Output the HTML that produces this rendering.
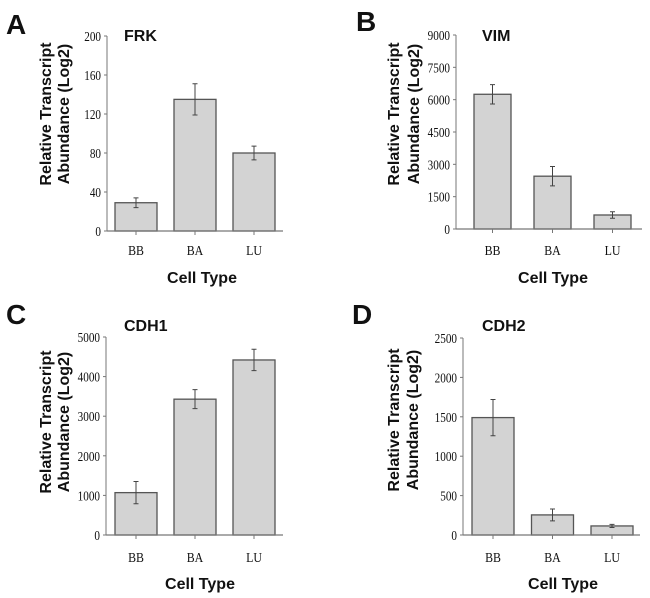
<!DOCTYPE html>
<html><head><meta charset="utf-8"><style>
html,body{margin:0;padding:0;background:#fff;}
svg{display:block;}
.tk{font-family:"Liberation Serif",serif;font-size:14px;fill:#111;}
.bt{font-family:"Liberation Sans",sans-serif;font-weight:bold;fill:#111;}
</style></head><body>
<svg id="fig" width="650" height="598" viewBox="0 0 650 598"></svg>
<script>
const categories = ["BB","BA","LU"];
const frkValues = [29,135,80];
const frkErrors = [5,16,7];
const frkTicks = [0,40,80,120,160,200];
const vimValues = [6250,2450,650];
const vimErrors = [450,450,150];
const vimTicks = [0,1500,3000,4500,6000,7500,9000];
const cdh1Values = [1070,3430,4420];
const cdh1Errors = [280,240,270];
const cdh1Ticks = [0,1000,2000,3000,4000,5000];
const cdh2Values = [1490,255,115];
const cdh2Errors = [230,75,20];
const cdh2Ticks = [0,500,1000,1500,2000,2500];

const NS="http://www.w3.org/2000/svg";
const svg=document.getElementById('fig');
function mk(tag,attrs,parent,text){const e=document.createElementNS(NS,tag);for(const k in attrs)e.setAttribute(k,attrs[k]);if(text!==undefined)e.textContent=text;(parent||svg).appendChild(e);return e;}

const panels=[
 {id:'a',letter:'A',name:'FRK',vals:frkValues,errs:frkErrors,ticks:frkTicks,ax:107,top:36,zero:231,end:283,bx0:115,bstep:59,bw:42,tx:124,ty:41,lx:6,ly:34,yt1:45,yt2:63,ytc:114,cy:250,ctx:202,cty:283},
 {id:'b',letter:'B',name:'VIM',vals:vimValues,errs:vimErrors,ticks:vimTicks,ax:456,top:35,zero:229,end:642,bx0:474,bstep:60,bw:37,tx:482,ty:41,lx:356,ly:31,yt1:393,yt2:413,ytc:114,cy:250,ctx:553,cty:283},
 {id:'c',letter:'C',name:'CDH1',vals:cdh1Values,errs:cdh1Errors,ticks:cdh1Ticks,ax:106,top:337,zero:535,end:283,bx0:115,bstep:59,bw:42,tx:124,ty:331,lx:6,ly:324,yt1:45,yt2:63,ytc:422,cy:557,ctx:200,cty:589},
 {id:'d',letter:'D',name:'CDH2',vals:cdh2Values,errs:cdh2Errors,ticks:cdh2Ticks,ax:463,top:338,zero:535,end:640,bx0:472,bstep:59.5,bw:42,tx:482,ty:331,lx:352,ly:324,yt1:393,yt2:412,ytc:420,cy:557,ctx:563,cty:589}
];

panels.forEach(p=>{
  const g=mk('g',{});
  
  
  const max=p.ticks[p.ticks.length-1];
  const y=v=>p.zero-(v/max)*(p.zero-p.top);
  const lt=mk('text',{x:p.lx,y:p.ly,class:'bt','font-size':'28'},g,p.letter);
  
  
  const tt=mk('text',{x:p.tx,y:p.ty,class:'bt','font-size':'16'},g,p.name);
  
  
  const yt=mk('text',{class:'bt','font-size':'16','text-anchor':'middle',transform:'rotate(-90)'},g);
  
  
  mk('tspan',{x:-p.ytc,y:p.yt1+6},yt,'Relative Transcript');
  mk('tspan',{x:-p.ytc,y:p.yt2+6},yt,'Abundance (Log2)');
  p.vals.forEach((v,i)=>{
    const x=p.bx0+i*p.bstep;
    const r=mk('rect',{x:x,y:y(v),width:p.bw,height:p.zero-y(v),fill:'#d3d3d3',stroke:'#555','stroke-width':'1.3'},g);
    
    
    const cx=x+p.bw/2, e=p.errs[i];
    const eb=mk('path',{d:`M${cx},${y(v+e)}V${y(v-e)}M${cx-2.5},${y(v+e)}H${cx+2.5}M${cx-2.5},${y(v-e)}H${cx+2.5}`,stroke:'#444','stroke-width':'1',fill:'none'},g);
    
    
    mk('line',{x1:cx,x2:cx,y1:p.zero,y2:p.zero+4,stroke:'#777'},g);
    const cl=mk('text',{x:0,y:0,class:'tk','text-anchor':'middle',transform:`translate(${cx},${p.cy+5}) scale(0.85,1)`},g,categories[i]);
    
    
  });
  const ya=mk('line',{x1:p.ax,x2:p.ax,y1:p.top,y2:p.zero,stroke:'#777','stroke-width':'1'},g);
  
  
  const xa=mk('line',{x1:p.ax,x2:p.end,y1:p.zero,y2:p.zero,stroke:'#777','stroke-width':'1.3'},g);
  
  
  p.ticks.forEach(t=>{
    mk('line',{x1:p.ax-3,x2:p.ax,y1:y(t),y2:y(t),stroke:'#777'},g);
    const tl=mk('text',{x:0,y:0,class:'tk','text-anchor':'end',transform:`translate(${p.ax-6},${y(t)+5}) scale(0.8,1)`},g,String(t));
    
    
  });
  const ct=mk('text',{x:p.ctx,y:p.cty,class:'bt','font-size':'16','text-anchor':'middle'},g,'Cell Type');
  
  
});
</script>
</body></html>
